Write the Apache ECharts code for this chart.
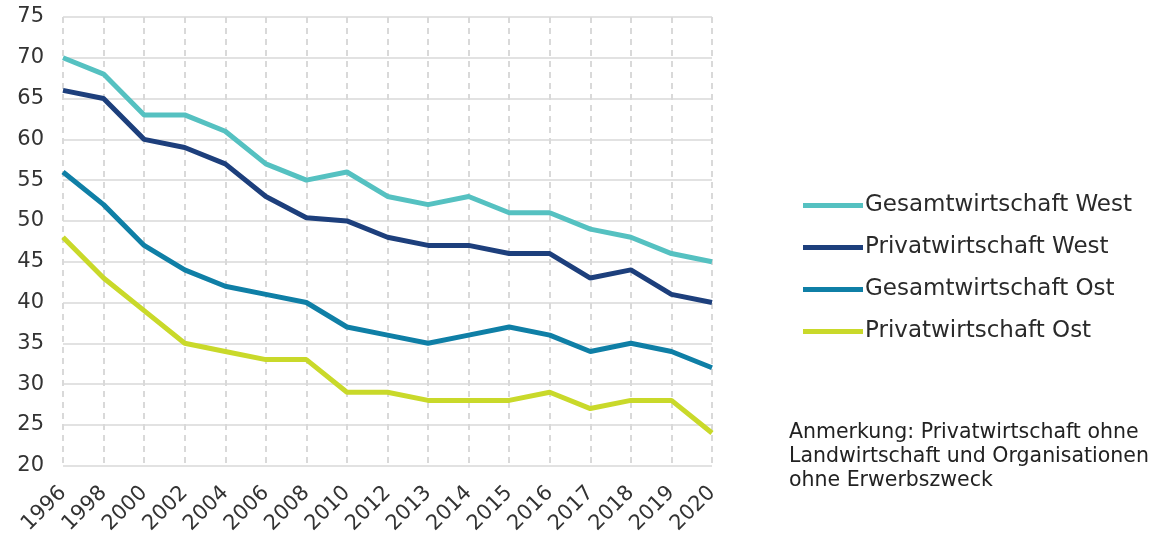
<!DOCTYPE html>
<html>
<head>
<meta charset="utf-8">
<script src="https://cdn.jsdelivr.net/npm/echarts@6/dist/echarts.min.js"></script>
<style>
  html, body { margin: 0; padding: 0; background: #fff; }
  #chart { width: 1158px; height: 537px; }
</style>
</head>
<body>
<div id="chart"></div>
<script>
// Jahre
const years = ['1996', '1998', '2000', '2002', '2004', '2006', '2008', '2010', '2012', '2013', '2014', '2015', '2016', '2017', '2018', '2019', '2020']
// Werte je Reihe
const gesamtWest = [70, 68, 63, 63, 61, 57, 55, 56, 53, 52, 53, 51, 51, 49, 48, 46, 45]
const privatWest = [66, 65, 60, 59, 57, 53, 50.4, 50, 48, 47, 47, 46, 46, 43, 44, 41, 40]
const gesamtOst = [56, 52, 47, 44, 42, 41, 40, 37, 36, 35, 36, 37, 36, 34, 35, 34, 32]
const privatOst = [48, 43, 39, 35, 34, 33, 33, 29, 29, 28, 28, 28, 29, 27, 28, 28, 24]
const seriesNames = ['Gesamtwirtschaft West', 'Privatwirtschaft West', 'Gesamtwirtschaft Ost', 'Privatwirtschaft Ost']
const noteLines = ['Anmerkung: Privatwirtschaft ohne', 'Landwirtschaft und Organisationen', 'ohne Erwerbszweck']

const colors = ['#55C1C1', '#1D3F7C', '#0F7FA6', '#C9D92A']
const fontFamily = 'DejaVu Sans, sans-serif'

let myChart = echarts.init(document.getElementById('chart'))

function makeLine (name, data, idx) {
  return {
    name: name,
    type: 'line',
    data: data,
    symbol: 'none',
    lineStyle: { width: 5, color: colors[idx] },
    itemStyle: { color: colors[idx] },
    z: 10 - idx
  }
}

let option = {
  animation: false,
  textStyle: { fontFamily: fontFamily },
  grid: {
    left: 63,
    right: 446,
    top: 17,
    bottom: 69,
    containLabel: false
  },
  legend: {
    orient: 'vertical',
    left: 798,
    top: 189,
    itemWidth: 60,
    itemHeight: 26,
    itemGap: 19,
    icon: 'path://M0,0 L60,0 L60,5 L0,5 Z',
    data: seriesNames,
    textStyle: { color: '#2a2a2a', fontSize: 23, fontFamily: fontFamily, padding: [0, 0, 0, -3] }
  },
  xAxis: {
    type: 'category',
    data: years,
    boundaryGap: false,
    axisLine: { show: false },
    axisTick: { show: false },
    axisLabel: {
      rotate: 45,
      interval: 0,
      color: '#333',
      fontSize: 21,
      margin: 24,
      fontFamily: fontFamily
    },
    splitLine: {
      show: true,
      lineStyle: { color: '#D9D9D9', width: 2, type: [6, 5] }
    }
  },
  yAxis: {
    type: 'value',
    min: 20,
    max: 75,
    interval: 5,
    axisLine: { show: false },
    axisTick: { show: false },
    axisLabel: { color: '#333', fontSize: 21, margin: 19, fontFamily: fontFamily },
    splitLine: { lineStyle: { color: '#D9D9D9', width: 1.5 } }
  },
  graphic: [
    {
      type: 'text',
      left: 789,
      top: 421,
      style: {
        text: noteLines.join('\n'),
        fill: '#222',
        font: '20.5px ' + fontFamily,
        lineHeight: 24
      }
    }
  ],
  series: [
    makeLine(seriesNames[0], gesamtWest, 0),
    makeLine(seriesNames[1], privatWest, 1),
    makeLine(seriesNames[2], gesamtOst, 2),
    makeLine(seriesNames[3], privatOst, 3)
  ]
}
myChart.setOption(option, true)
</script>
</body>
</html>
